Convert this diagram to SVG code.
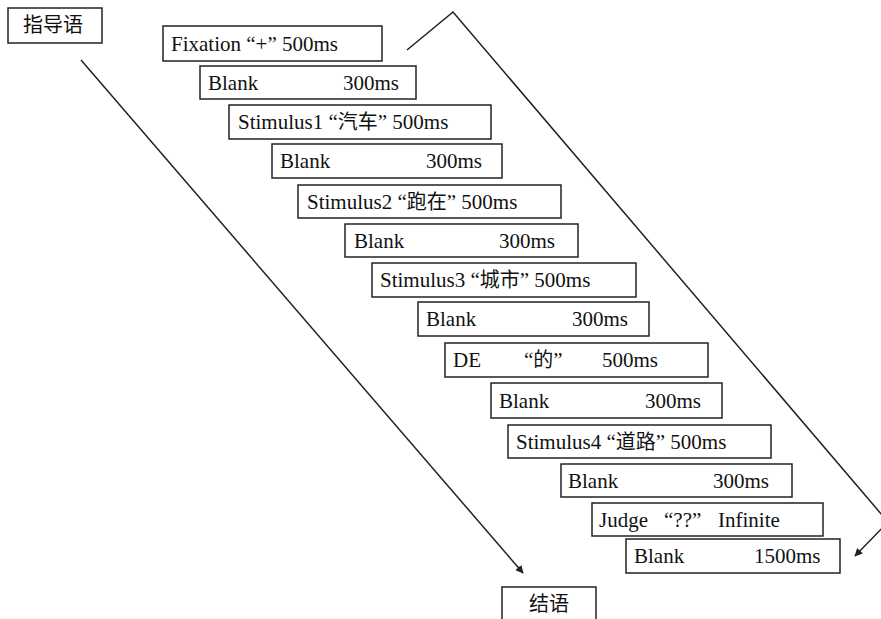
<svg xmlns="http://www.w3.org/2000/svg" width="881" height="619" viewBox="0 0 881 619">
  <style>
    .box { fill: #ffffff; stroke: #222222; stroke-width: 1.5; }
    .lbl { font-family: "Liberation Serif", "Times New Roman", Tinos, "DejaVu Serif", serif; font-size: 21px; fill: #111111; }
    .zh { font-family: "Noto Sans CJK SC", sans-serif; font-size: 20px; }
    .cjk { font-family: "Noto Sans CJK SC", "Noto Sans", sans-serif; font-size: 20px; fill: #111111; }
    .wire { fill: none; stroke: #222222; stroke-width: 1.5; }
  </style>
  <defs>
    <marker id="arrow" viewBox="0 0 10 10" refX="9" refY="5" markerWidth="8" markerHeight="8" markerUnits="userSpaceOnUse" orient="auto">
      <path d="M0,0 L10,5 L0,10 z" fill="#222222"/>
    </marker>
  </defs>
  <rect width="881" height="619" fill="#ffffff"/>

  <!-- flow lines -->
  <g id="connectors">
    <line class="wire" x1="81" y1="60" x2="523" y2="573" marker-end="url(#arrow)"/>
    <polyline class="wire" points="407,50 453,12 888,522 855,556" marker-end="url(#arrow)"/>
  </g>

  <g id="instruction">
    <rect class="box" x="8" y="8" width="94" height="35"/>
    <text class="cjk" x="23" y="32">指导语</text>
  </g>

  <g id="fixation">
    <rect class="box" x="163" y="26" width="219" height="35"/>
    <text class="lbl" x="171" y="51">Fixation “+” 500ms</text>
  </g>

  <g id="blank1">
    <rect class="box" x="200" y="66" width="216" height="33"/>
    <text class="lbl" y="90"><tspan x="208">Blank</tspan><tspan x="343">300ms</tspan></text>
  </g>

  <g id="stimulus1">
    <rect class="box" x="229" y="105" width="262" height="34"/>
    <text class="lbl" x="238" y="129">Stimulus1 “<tspan class="zh">汽车</tspan>” 500ms</text>
  </g>

  <g id="blank2">
    <rect class="box" x="272" y="144" width="230" height="34"/>
    <text class="lbl" y="168"><tspan x="280">Blank</tspan><tspan x="426">300ms</tspan></text>
  </g>

  <g id="stimulus2">
    <rect class="box" x="298" y="185" width="263" height="33"/>
    <text class="lbl" x="307" y="209">Stimulus2 “<tspan class="zh">跑在</tspan>” 500ms</text>
  </g>

  <g id="blank3">
    <rect class="box" x="345" y="224" width="233" height="33"/>
    <text class="lbl" y="248"><tspan x="354">Blank</tspan><tspan x="499">300ms</tspan></text>
  </g>

  <g id="stimulus3">
    <rect class="box" x="372" y="263" width="264" height="34"/>
    <text class="lbl" x="380" y="287">Stimulus3 “<tspan class="zh">城市</tspan>” 500ms</text>
  </g>

  <g id="blank4">
    <rect class="box" x="418" y="302" width="231" height="34"/>
    <text class="lbl" y="326"><tspan x="426">Blank</tspan><tspan x="572">300ms</tspan></text>
  </g>

  <g id="de">
    <rect class="box" x="445" y="343" width="263" height="34"/>
    <text class="lbl" y="367"><tspan x="453">DE</tspan><tspan x="524">“<tspan class="zh">的</tspan>”</tspan><tspan x="602">500ms</tspan></text>
  </g>

  <g id="blank5">
    <rect class="box" x="491" y="383" width="231" height="35"/>
    <text class="lbl" y="408"><tspan x="499">Blank</tspan><tspan x="645">300ms</tspan></text>
  </g>

  <g id="stimulus4">
    <rect class="box" x="508" y="425" width="263" height="33"/>
    <text class="lbl" x="516" y="449">Stimulus4 “<tspan class="zh">道路</tspan>” 500ms</text>
  </g>

  <g id="blank6">
    <rect class="box" x="561" y="464" width="231" height="33"/>
    <text class="lbl" y="488"><tspan x="568">Blank</tspan><tspan x="713">300ms</tspan></text>
  </g>

  <g id="judge">
    <rect class="box" x="592" y="503" width="231" height="33"/>
    <text class="lbl" y="527"><tspan x="599">Judge</tspan><tspan x="664">“??”</tspan><tspan x="718">Infinite</tspan></text>
  </g>

  <g id="blank7">
    <rect class="box" x="626" y="539" width="214" height="34"/>
    <text class="lbl" y="563"><tspan x="634">Blank</tspan><tspan x="754">1500ms</tspan></text>
  </g>

  <g id="ending">
    <rect class="box" x="502" y="587" width="94" height="40"/>
    <text class="cjk" x="529" y="611">结语</text>
  </g>
</svg>
